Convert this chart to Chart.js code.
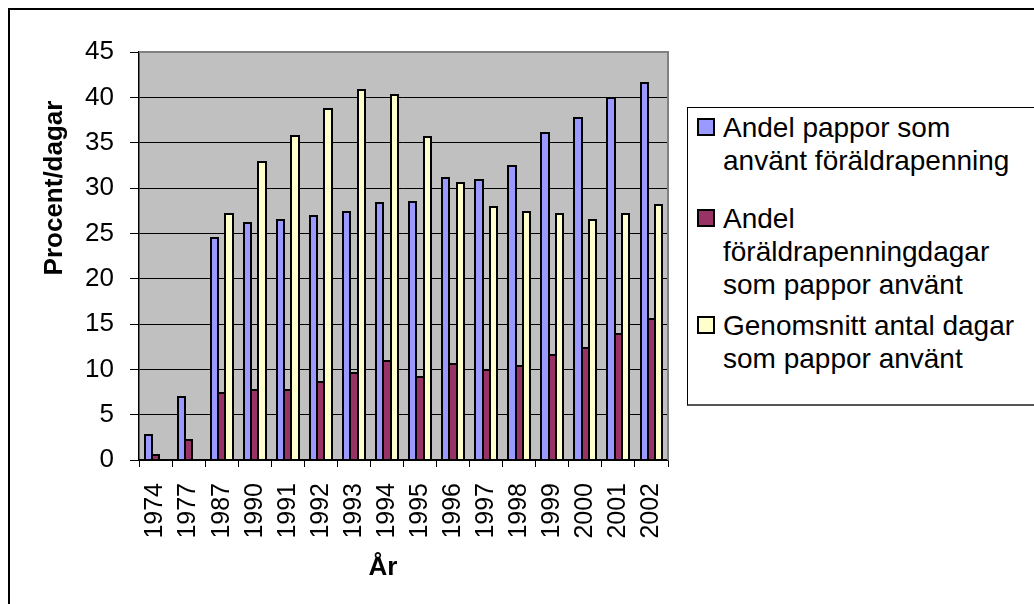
<!DOCTYPE html>
<html>
<head>
<meta charset="utf-8">
<script src="https://cdn.jsdelivr.net/npm/chart.js@4.4.0/dist/chart.umd.min.js"></script>
<style>
  html, body { margin: 0; padding: 0; background: #fff; overflow: hidden; }
  body { width: 1034px; height: 604px; position: relative; font-family: "Liberation Sans", Arial, sans-serif; }
  .frame { position: absolute; left: 8px; top: 8px; width: 2000px; height: 2000px;
           border-left: 2px solid #000; border-top: 2px solid #000; }
  #chart { position: absolute; left: 0; top: 0; }
  .legend { position: absolute; left: 687px; top: 107px; width: 400px; height: 296px;
            border: 1px solid #000; border-bottom: 2px solid #555; background: #fff; }
  .legend .item { position: absolute; left: 9px; }
  .legend .box { position: absolute; left: 0; top: 7px; width: 14px; height: 14px; border: 2px solid #000; }
  .legend .text { position: absolute; left: 26px; white-space: pre; font-size: 28px; line-height: 33px; color: #000; }
</style>
</head>
<body>
<div class="frame"></div>
<canvas id="chart" width="1034" height="604"></canvas>
<div class="legend" id="legend"></div>
<script>
const years = ["1974", "1977", "1987", "1990", "1991", "1992", "1993", "1994", "1995",
  "1996", "1997", "1998", "1999", "2000", "2001", "2002"];

const andelPappor = [2.8, 7.0, 24.5, 26.1, 26.5, 26.9, 27.4, 28.3, 28.5,
  31.1, 30.9, 32.4, 36.1, 37.7, 39.9, 41.6];
const andelDagar = [0.5, 2.2, 7.35, 7.7, 7.7, 8.6, 9.6, 10.9, 9.2,
  10.6, 9.9, 10.4, 11.6, 12.4, 13.9, 15.5];
const snittDagar = [null, null, 27.1, 32.9, 35.7, 38.7, 40.8, 40.3, 35.6,
  30.5, 27.9, 27.4, 27.1, 26.5, 27.1, 28.1];

const seriesNames = [
  "Andel pappor som\nanvänt föräldrapenning",
  "Andel\nföräldrapenningdagar\nsom pappor använt",
  "Genomsnitt antal dagar\nsom pappor använt"
];
const seriesColors = ["#9999FF", "#993366", "#FFFFCC"];

const yTitle = "Procent/dagar";
const xTitle = "År";

const FONT = '"Liberation Sans", Arial, sans-serif';

// grey plot area, crisp black bar outlines, grey top/right border, axis titles
const plotDecor = {
  id: "plotDecor",
  beforeDraw(chart) {
    const a = chart.chartArea, ctx = chart.ctx;
    ctx.save();
    ctx.fillStyle = "#C0C0C0";
    ctx.fillRect(a.left, a.top, a.right - a.left, a.bottom - a.top);
    ctx.restore();
  },
  afterDatasetsDraw(chart) {
    const ctx = chart.ctx;
    ctx.save();
    ctx.strokeStyle = "#000";
    ctx.lineWidth = 2;
    chart.data.datasets.forEach((ds, i) => {
      chart.getDatasetMeta(i).data.forEach((bar) => {
        const p = bar.getProps(["x", "y", "base", "width"], true);
        if (!isFinite(p.y) || !isFinite(p.base)) return;
        const l = Math.round(p.x - p.width / 2);
        const r = Math.round(p.x + p.width / 2);
        const t = Math.round(p.y);
        const b = Math.round(p.base);
        ctx.strokeRect(l, t, r - l, b - t);
      });
    });
    ctx.restore();
  },
  afterDraw(chart) {
    const a = chart.chartArea, ctx = chart.ctx;
    ctx.save();
    ctx.strokeStyle = "#808080";
    ctx.lineWidth = 2;
    ctx.beginPath();
    ctx.moveTo(a.left, a.top);
    ctx.lineTo(a.right, a.top);
    ctx.lineTo(a.right, a.bottom);
    ctx.stroke();

    ctx.fillStyle = "#000";
    ctx.font = "bold 26px " + FONT;
    ctx.textAlign = "center";
    ctx.textBaseline = "middle";
    ctx.fillText(xTitle, 383, 568);
    ctx.translate(55, 188);
    ctx.rotate(-Math.PI / 2);
    ctx.fillText(yTitle, 0, 0);
    ctx.restore();
  }
};

const chart = new Chart(document.getElementById("chart"), {
  type: "bar",
  data: {
    labels: years,
    datasets: [andelPappor, andelDagar, snittDagar].map((d, i) => ({
      label: seriesNames[i],
      data: d,
      backgroundColor: seriesColors[i],
      borderWidth: 0,
      inflateAmount: 0,
      categoryPercentage: 0.66,
      barPercentage: 1.0
    }))
  },
  options: {
    responsive: false,
    devicePixelRatio: 1,
    animation: false,
    layout: { padding: { left: 0, top: 52, right: 366, bottom: 0 } },
    plugins: { legend: { display: false }, tooltip: { enabled: false } },
    scales: {
      x: {
        afterFit(s) { s.height = 144; },
        grid: { display: true, drawOnChartArea: false, drawTicks: true, tickLength: 7, color: "#000", offset: true },
        border: { display: true, color: "#000", width: 1.5 },
        ticks: { color: "#000", font: { family: FONT, size: 25 }, maxRotation: 90, minRotation: 90,
                 autoSkip: false, padding: 16 }
      },
      y: {
        min: 0, max: 45,
        afterFit(s) { s.width = 139; },
        grid: {
          color: (c) => (c.tick && c.tick.value === 45 ? "#808080" : "#000"),
          lineWidth: 1,
          tickColor: "#000",
          tickLength: 9
        },
        border: { display: true, color: "#000", width: 1.5 },
        ticks: { stepSize: 5, color: "#000", font: { family: FONT, size: 26 }, padding: 16 }
      }
    }
  },
  plugins: [plotDecor]
});

// legend built from the chart's datasets
const legendTops = [3, 94, 201];
const legendEl = document.getElementById("legend");
chart.data.datasets.forEach((ds, i) => {
  const item = document.createElement("div");
  item.className = "item";
  item.style.top = legendTops[i] + "px";
  const box = document.createElement("div");
  box.className = "box";
  box.style.background = ds.backgroundColor;
  const txt = document.createElement("div");
  txt.className = "text";
  txt.textContent = ds.label;
  item.appendChild(box);
  item.appendChild(txt);
  legendEl.appendChild(item);
});
</script>
</body>
</html>
